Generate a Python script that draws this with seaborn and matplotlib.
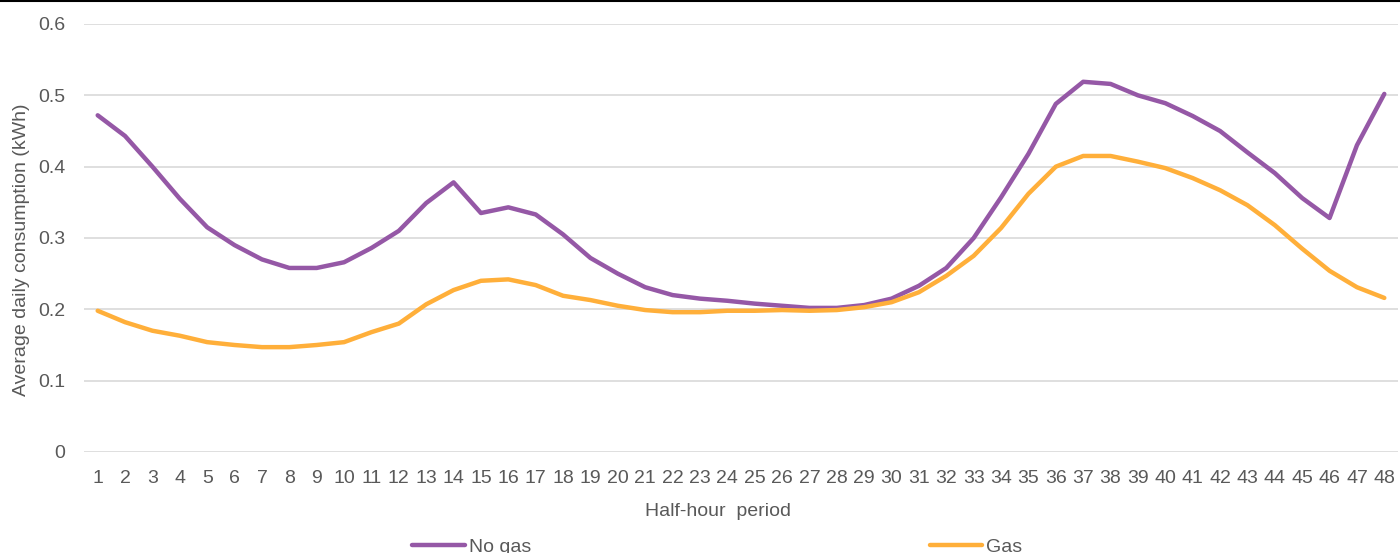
import numpy as np
import pandas as pd
import matplotlib
matplotlib.use("Agg")
import matplotlib.pyplot as plt
import seaborn as sns
from matplotlib.lines import Line2D

periods = list(range(1, 49))
no_gas = [0.472, 0.443, 0.400, 0.355, 0.315, 0.290, 0.270, 0.258, 0.258, 0.266,
          0.286, 0.310, 0.349, 0.378, 0.335, 0.343, 0.333, 0.305, 0.272, 0.250,
          0.231, 0.220, 0.215, 0.212, 0.208, 0.205, 0.202, 0.202, 0.206, 0.215,
          0.233, 0.258, 0.300, 0.357, 0.418, 0.488, 0.519, 0.516, 0.500, 0.489,
          0.471, 0.450, 0.420, 0.391, 0.356, 0.328, 0.430, 0.502]
gas = [0.198, 0.182, 0.170, 0.163, 0.154, 0.150, 0.147, 0.147, 0.150, 0.154,
       0.168, 0.180, 0.207, 0.227, 0.240, 0.242, 0.234, 0.219, 0.213, 0.205,
       0.199, 0.196, 0.196, 0.198, 0.198, 0.199, 0.198, 0.199, 0.203, 0.210,
       0.224, 0.247, 0.275, 0.314, 0.362, 0.400, 0.415, 0.415, 0.407, 0.398,
       0.384, 0.367, 0.346, 0.318, 0.285, 0.254, 0.231, 0.216]
series_names = ["No gas", "Gas"]
y_ticks = [0, 0.1, 0.2, 0.3, 0.4, 0.5, 0.6]
y_tick_labels = ["0", "0.1", "0.2", "0.3", "0.4", "0.5", "0.6"]

df = pd.DataFrame({
    "period": periods * 2,
    "value": no_gas + gas,
    "series": [series_names[0]] * 48 + [series_names[1]] * 48,
})

sns.set_theme(style="white")
plt.rcParams["font.family"] = ["Liberation Sans", "DejaVu Sans"]

colors = {"No gas": "#9558A6", "Gas": "#FFAF3A"}
text_color = "#595959"
fig = plt.figure(figsize=(14, 5.53), dpi=100)
ax = fig.add_axes([84 / 1400, 1 - 452 / 553, (1398 - 84) / 1400, (452 - 24) / 553])

sns.lineplot(data=df, x="period", y="value", hue="series", palette=colors,
             linewidth=3.2, ax=ax, legend=False)

ax.set_xlim(0.5, 48.5)
ax.set_ylim(0, 0.6)
ax.set_yticks(y_ticks)
ax.set_yticklabels(y_tick_labels)
ax.set_xticks(periods)
ax.set_xticklabels([str(p) for p in periods])
ax.grid(axis="y", color="#D9D9D9", linewidth=1.2)
ax.grid(axis="x", visible=False)
ax.set_axisbelow(True)
for s in ax.spines.values():
    s.set_visible(False)
ax.tick_params(axis="both", length=0, labelsize=14, colors=text_color)
ax.tick_params(axis="x", pad=13)
ax.tick_params(axis="y", pad=13.5)

ax.set_xlabel("Half-hour  period", fontsize=14, color=text_color)
ax.xaxis.label.set_va("center")
ax.xaxis.set_label_coords((718 - 84) / 1314, (452 - 512) / 428)
ax.set_ylabel("Average daily consumption (kWh)", fontsize=14, color=text_color)
ax.yaxis.label.set_va("center")
ax.yaxis.set_label_coords((22 - 84) / 1314, (452 - 250) / 428)

handles = [Line2D([], [], color=colors[n], linewidth=3.2) for n in series_names]
fig.legend(handles, series_names, loc="center", bbox_to_anchor=(0.5124, 0.0114),
           ncol=2, frameon=False, fontsize=14, handlelength=2.7, handletextpad=0.2,
           columnspacing=20.5, labelcolor=text_color)

fig.add_artist(Line2D([0, 1], [0.999, 0.999], transform=fig.transFigure, color="black", linewidth=1.5))

fig.savefig("out.png", dpi=100)
